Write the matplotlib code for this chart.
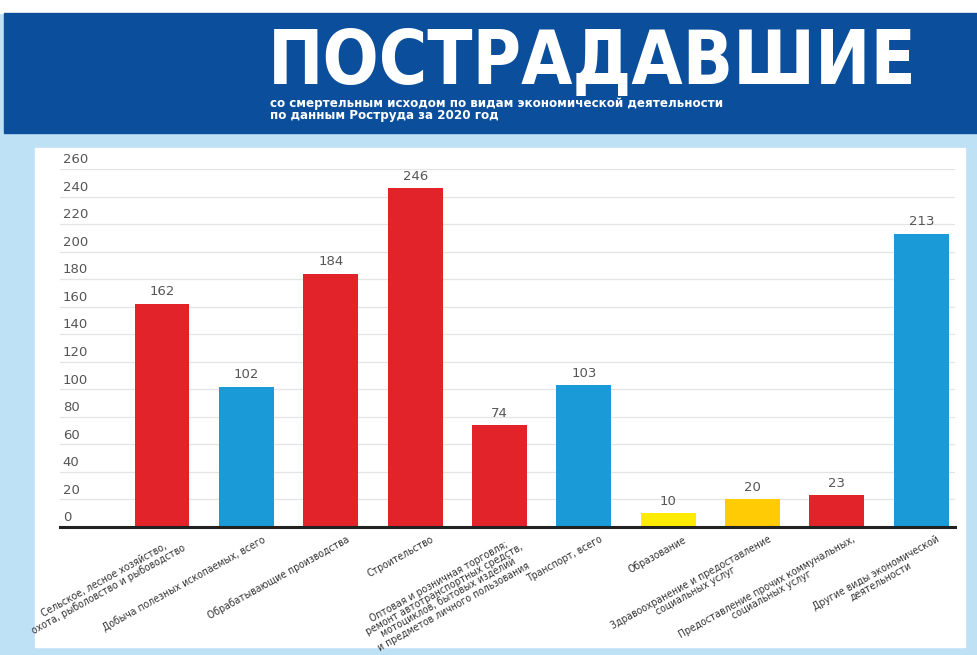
from matplotlib import pyplot as plt
from matplotlib.patches import Rectangle
import matplotlib.transforms as mtransforms

# шрифт: узкий DejaVu
plt.rcParams['font.family'] = ['DejaVu Sans']
plt.rcParams['font.stretch'] = 'condensed'

# данные
categories = [
    "Сельское, лесное хозяйство,\nохота, рыболовство и рыбоводство",
    "Добыча полезных ископаемых, всего",
    "Обрабатывающие производства",
    "Строительство",
    "Оптовая и розничная торговля;\nремонт автотранспортных средств,\nмотоциклов, бытовых изделий\nи предметов личного пользования",
    "Транспорт, всего",
    "Образование",
    "Здравоохранение и предоставление\nсоциальных услуг",
    "Предоставление прочих коммунальных,\nсоциальных услуг",
    "Другие виды экономической\nдеятельности",
]
victims = [162, 102, 184, 246, 74, 103, 10, 20, 23, 213]
bar_colors = ["#e3232a", "#1a9bd7", "#e3232a", "#e3232a", "#e3232a",
              "#1a9bd7", "#ffeb00", "#ffcb05", "#e3232a", "#1a9bd7"]
y_ticks = list(range(0, 261, 20))

W, H = 977, 655
fig = plt.figure(figsize=(W / 100, H / 100), dpi=100)
fig.patch.set_facecolor("#bfe1f5")

def fx(px):
    return px / W

def fy(py):
    return 1 - py / H

# фон: белая полоса сверху, синяя шапка, белая панель
fig.patches.append(Rectangle((0, fy(13)), 1, 1 - fy(13), transform=fig.transFigure,
                             color="white", zorder=-2))
fig.patches.append(Rectangle((fx(4), fy(133)), 1 - fx(4), fy(13) - fy(133),
                             transform=fig.transFigure, color="#0b4f9c", zorder=-2))
fig.patches.append(Rectangle((fx(35), fy(647)), fx(965) - fx(35), fy(148) - fy(647),
                             transform=fig.transFigure, color="white", zorder=-2))

fig.text(fx(268), fy(84), "ПОСТРАДАВШИЕ", color="white", fontsize=53,
         fontweight="bold", va="baseline", ha="left")
fig.text(fx(270), fy(103), "со смертельным исходом по видам экономической деятельности",
         color="white", fontsize=9.5, fontweight="bold", va="center", ha="left")
fig.text(fx(270), fy(116), "по данным Роструда за 2020 год",
         color="white", fontsize=9.5, fontweight="bold", va="center", ha="left")

# оси
ax = fig.add_axes([fx(60), fy(527), fx(955) - fx(60), fy(169) - fy(527)])
ax.set_facecolor("none")
xs = list(range(len(victims)))
bars = ax.bar(xs, victims, width=0.65, color=bar_colors, zorder=3)
ax.set_xlim(-1.21, 9.40)
ax.set_ylim(0, 260)

for y in y_ticks[1:]:
    ax.axhline(y, color="#e4e4e4", linewidth=0.9, zorder=1)
ax.axhline(0, color="#222222", linewidth=2.2, zorder=4, clip_on=False)

for s in ax.spines.values():
    s.set_visible(False)
ax.set_xticks([])
ax.set_yticks([])

# подписи оси Y над линиями сетки
ytrans = mtransforms.blended_transform_factory(ax.transAxes, ax.transData)
offset = mtransforms.ScaledTranslation(0, 2 / 72, fig.dpi_scale_trans)
for y in y_ticks:
    ax.text(0.003, y, str(y), transform=ytrans + offset, ha="left", va="bottom",
            fontsize=9.5, color="#555555", fontstretch="normal")

# значения над столбцами
for x, v in zip(xs, victims):
    ax.annotate(str(v), (x, v), xytext=(0, 4), textcoords="offset points",
                ha="center", va="bottom", fontsize=9.5, color="#555555",
                fontstretch="normal")

# подписи категорий
for x, name in zip(xs, categories):
    ax.annotate(name, (x + 0.18, 0), xytext=(0, -5), textcoords="offset points",
                ha="right", va="top", rotation=29, rotation_mode="anchor",
                multialignment="center", fontsize=7.5, color="#333333",
                linespacing=0.95, annotation_clip=False)

fig.savefig("out.png", dpi=100, facecolor=fig.get_facecolor())
